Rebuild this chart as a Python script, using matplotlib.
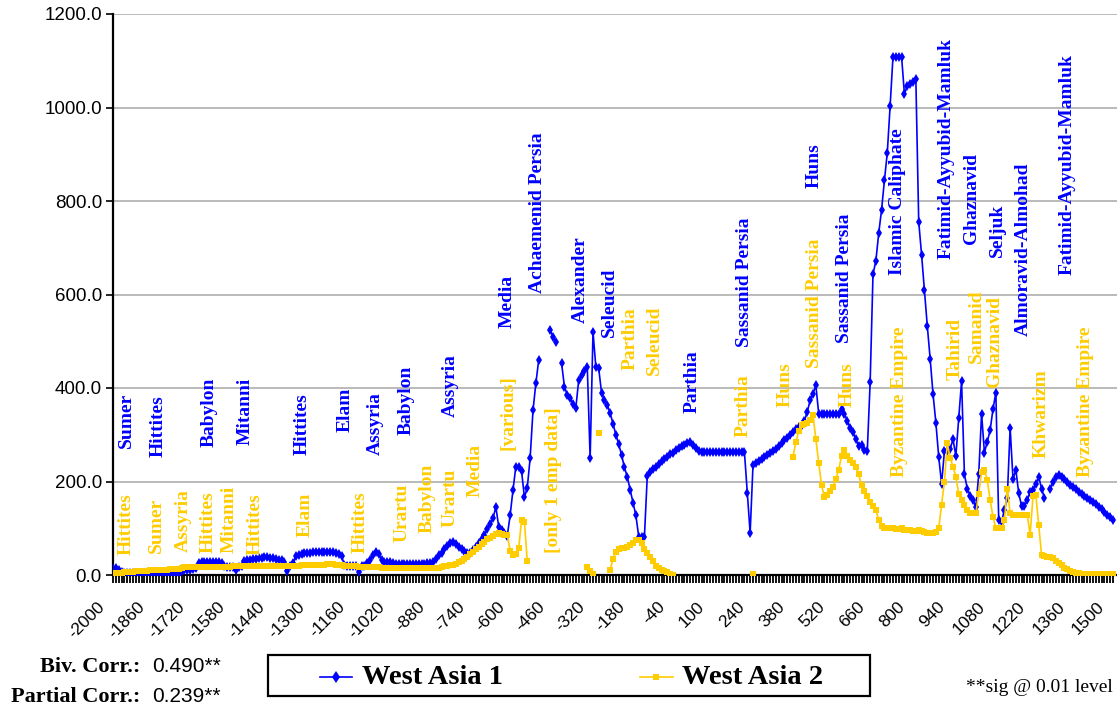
import numpy as np
import matplotlib
matplotlib.use("Agg")
import matplotlib.pyplot as plt
import matplotlib.transforms as mtransforms
from matplotlib.lines import Line2D
from matplotlib.patches import Rectangle

nan = np.nan

# one value every 10 years, -2000 .. 1500
years = np.arange(-2000, 1510, 10)

west_asia_1 = [
    15, 14, 10, 6, 5, 5, 5, 5, 5, 5,                  # -2000
    5, 5, 5, 5, 5, 5, 5, 5, 2, 0,                     # -1900
    2, 2, 0, 2, 8, 10, 10, 10, 12, 14,                # -1800
    25, 27, 28, 28, 28, 28, 28, 28, 26, 20,           # -1700
    18, 18, 18, 10, 18, 20, 30, 32, 33, 34,           # -1600
    35, 36, 37, 38, 38, 37, 36, 34, 33, 32,           # -1500
    28, 8, 20, 25, 40, 43, 45, 46, 47, 48,            # -1400
    49, 50, 50, 50, 50, 50, 50, 49, 48, 45,           # -1300
    40, 22, 20, 20, 20, 20, 6, 20, 20, 25,            # -1200
    32, 42, 50, 45, 32, 28, 28, 27, 25, 24,           # -1100
    23, 23, 23, 23, 23, 23, 23, 23, 23, 24,           # -1000
    25, 26, 28, 34, 42, 48, 55, 62, 68, 70,           # -900
    66, 60, 55, 51, 47, 48, 53, 60, 68, 76,           # -800
    86, 98, 110, 121, 146, 103, 96, 90, 84, 128,      # -700
    182, 232, 232, 222, 166, 187, 250, 352, 410, 460, # -600
    nan, nan, nan, 524, 510, 499, nan, 453, 403, 385, # -500
    378, 365, 358, 417, 428, 436, 445, 250, 520, 445, # -400
    442, 389, 375, 364, 346, 324, 300, 280, 257, 230, # -300
    210, 182, 155, 128, 82, 82, 82, 212, 220, 226,    # -200
    232, 238, 243, 248, 253, 258, 262, 267, 271, 275, # -100
    279, 283, 285, 278, 272, 266, 263, 263, 263, 263, # 0
    263, 263, 263, 263, 263, 263, 263, 263, 263, 263, # 100
    263, 263, 175, 90, 235, 240, 244, 248, 252, 256,  # 200
    260, 265, 270, 276, 282, 288, 294, 300, 306, 312, # 300
    316, 320, 330, 349, 374, 388, 406, 345, 345, 345, # 400
    345, 345, 345, 345, 345, 356, 345, 330, 315, 305, # 500
    290, 275, 278, 268, 265, 412, 643, 672, 731, 781, # 600
    844, 903, 1004, 1109, 1109, 1109, 1109, 1029, 1046, 1050,  # 700
    1055, 1060, 756, 685, 609, 533, 463, 388, 326, 253,        # 800
    195, 265, 265, 270, 290, 255, 335, 415, 215, 185, # 900
    170, 160, 145, 215, 345, 262, 285, 310, 355, 390, # 1000
    117, 114, 140, 165, 315, 205, 225, 175, 148, 148, # 1100
    160, 178, 182, 195, 210, 185, 165, nan, 185, 200, # 1200
    210, 214, 210, 205, 200, 193, 188, 183, 178, 173, # 1300
    169, 165, 160, 156, 151, 146, 141, 135, 129, 124, # 1400
    118,                                              # 1500
]

west_asia_2 = [
    3, 4, 5, 5, 6, 6, 7, 7, 8, 8,                     # -2000
    9, 9, 9, 10, 10, 10, 10, 11, 11, 11,              # -1900
    12, 12, 12, 13, 15, 17, 18, 18, 18, 18,           # -1800
    18, 18, 18, 18, 18, 18, 18, 18, 18, 18,           # -1700
    18, 18, 19, 19, 19, 19, 19, 19, 19, 19,           # -1600
    19, 19, 19, 19, 20, 20, 20, 20, 20, 20,           # -1500
    20, 20, 20, 20, 20, 20, 21, 21, 21, 21,           # -1400
    21, 21, 22, 22, 22, 23, 23, 23, 22, 22,           # -1300
    21, 20, 20, 19, 19, 19, 18, 18, 18, 18,           # -1200
    18, 17, 17, 17, 16, 16, 16, 16, 15, 15,           # -1100
    15, 15, 15, 14, 14, 14, 14, 14, 14, 14,           # -1000
    14, 14, 14, 15, 16, 18, 19, 20, 21, 22,           # -900
    24, 27, 30, 34, 39, 45, 50, 55, 60, 66,           # -800
    71, 76, 80, 84, 88, 90, 88, 85, 85, 52,           # -700
    43, 45, 57, 118, 114, 29, nan, nan, nan, nan,     # -600
    nan, nan, nan, nan, nan, nan, nan, nan, nan, nan, # -500
    nan, nan, nan, nan, nan, nan, 17, 8, 2, nan,      # -400
    303, nan, nan, nan, 10, 35, 50, 55, 57, 58,       # -300
    60, 64, 68, 75, 75, 68, 55, 46, 38, 29,           # -200
    20, 15, 11, 8, 6, 3, 1, nan, nan, nan,            # -100
    nan, nan, nan, nan, nan, nan, nan, nan, nan, nan, # 0
    nan, nan, nan, nan, nan, nan, nan, nan, nan, nan, # 100
    nan, nan, nan, nan, 2, nan, nan, nan, nan, nan,   # 200
    nan, nan, nan, nan, nan, nan, nan, nan, 253, 285, # 300
    307, 320, 324, 326, 332, 342, 290, 240, 192, 167, # 400
    172, 180, 189, 205, 225, 255, 268, 255, 246, 240, # 500
    232, 215, 192, 180, 170, 157, 148, 139, 118, 104, # 600
    100, 100, 100, 100, 99, 98, 100, 97, 96, 96,      # 700
    95, 95, 96, 94, 92, 90, 89, 90, 91, 100,          # 800
    150, 200, 282, 250, 232, 210, 174, 160, 150, 140, # 900
    132, 132, 132, 174, 220, 225, 203, 160, 125, 100, # 1000
    100, 100, 118, 185, 132, 128, 128, 128, 128, 128, # 1100
    128, 86, 168, 171, 107, 43, 40, 39, 38, 36,       # 1200
    30, 26, 22, 16, 12, 8, 6, 5, 4, 3,                # 1300
    3, 3, 3, 3, 3, 3, 3, 3, 3, 3,                     # 1400
    3,                                                # 1500
]

assert len(west_asia_1) == len(years) and len(west_asia_2) == len(years)

# polity labels (text, year, value where the rotated text starts)
labels_1 = [
    ("Sumer", -1953, 272), ("Hittites", -1841, 252), ("Babylon", -1662, 274),
    ("Mitanni", -1536, 278), ("Hittites", -1337, 257), ("Elam", -1186, 306),
    ("Assyria", -1081, 257), ("Babylon", -973, 299), ("Assyria", -819, 338),
    ("Media", -619, 528), ("Achaemenid Persia", -514, 603), ("Alexander", -364, 539),
    ("Seleucid", -262, 509), ("Parthia", 28, 347), ("Sassanid Persia", 210, 488),
    ("Huns", 455, 828), ("Sassanid Persia", 560, 496), ("Islamic Caliphate", 744, 642),
    ("Fatimid-Ayyubid-Mamluk", 916, 676), ("Ghaznavid", 1006, 708), ("Seljuk", 1097, 680),
    ("Almoravid-Almohad", 1185, 511), ("Fatimid-Ayyubid-Mamluk", 1339, 642),
]
labels_2 = [
    ("Hittites", -1953, 43), ("Sumer", -1848, 47), ("Assyria", -1753, 49),
    ("Hittites", -1666, 47), ("Mitanni", -1594, 47), ("Hittites", -1501, 43),
    ("Elam", -1328, 81), ("Hittites", -1136, 47), ("Urartu", -987, 71),
    ("Babylon", -899, 90), ("Urartu", -819, 103), ("Media", -731, 167),
    ("[various]", -616, 267), ("[only 1 emp data]", -458, 47), ("Parthia", -190, 439),
    ("Seleucid", -105, 428), ("Parthia", 207, 295), ("Huns", 354, 359),
    ("Sassanid Persia", 455, 443), ("Huns", 571, 359), ("Byzantine Empire", 753, 210),
    ("Tahirid", 947, 417), ("Samanid", 1021, 453), ("Ghaznavid", 1087, 402),
    ("Khwarizm", 1250, 250), ("Byzantine Empire", 1402, 210),
]

BLUE = "#0000ff"
YELLOW = "#ffcc00"
SERIF = "Liberation Serif"
SANS = "Liberation Sans"

W, H = 1117, 715
fig = plt.figure(figsize=(W / 100, H / 100), dpi=100)
ax = fig.add_axes([113 / W, 1 - 575 / H, (W - 113) / W, (575 - 14) / H])

ax.plot(years, west_asia_1, color=BLUE, lw=1.2, marker="d", ms=5.5, mew=0, zorder=3)
ax.plot(years, west_asia_2, color=YELLOW, lw=1.2, marker="s", ms=4.5, mew=0, zorder=4)

for txt, x, y in labels_1:
    ax.text(x, y, txt, rotation=90, ha="center", va="bottom", color=BLUE,
            family=SERIF, weight="bold", fontsize=14, zorder=5)
for txt, x, y in labels_2:
    ax.text(x, y, txt, rotation=90, ha="center", va="bottom", color=YELLOW,
            family=SERIF, weight="bold", fontsize=14, zorder=5)

ax.set_xlim(-2000, 1514)
ax.set_ylim(0, 1200)
yt = np.arange(0, 1201, 200)
ax.set_yticks(yt)
ax.set_yticklabels([f"{v:.1f}" for v in yt], family=SANS, fontsize=13.5)

# slanted year labels every 140 years, ends just left of and below each tick
xt = np.arange(-2000, 1501, 140)
ax.set_xticks(xt)
ax.set_xticklabels([])
lab_tr = mtransforms.offset_copy(ax.get_xaxis_transform(), fig=fig, x=-16, y=-24, units="dots")
for v in xt:
    ax.text(v, 0, str(v), transform=lab_tr, family=SANS, fontsize=12.5, rotation=45,
            ha="right", va="top", rotation_mode="anchor", clip_on=False)
ax.set_xticks(years, minor=True)
ax.tick_params(axis="x", which="both", direction="out", length=6, width=1.3, pad=4)
ax.tick_params(axis="y", direction="out", length=5, width=1.2, pad=3)

ax.grid(axis="y", color="#b4b4b4", lw=1.3, zorder=0)
ax.set_axisbelow(True)
for s in ("top", "right"):
    ax.spines[s].set_visible(False)
for s in ("left", "bottom"):
    ax.spines[s].set_linewidth(1.6)

# correlation notes
fig.text(140 / W, 1 - 667 / H, "Biv. Corr.:", ha="right", va="center",
         family=SERIF, weight="bold", fontsize=16)
fig.text(152 / W, 1 - 667 / H, "0.490**", ha="left", va="center", family=SANS, fontsize=15)
fig.text(140 / W, 1 - 697 / H, "Partial Corr.:", ha="right", va="center",
         family=SERIF, weight="bold", fontsize=16)
fig.text(152 / W, 1 - 697 / H, "0.239**", ha="left", va="center", family=SANS, fontsize=15)
fig.text(1113 / W, 1 - 688 / H, "**sig @ 0.01 level", ha="right", va="center",
         family=SERIF, fontsize=14)

# legend box
fig.add_artist(Rectangle((268 / W, 1 - 696 / H), 602 / W, 41 / H, transform=fig.transFigure,
                         fill=False, edgecolor="black", lw=1.6))
ly = 1 - 677 / H
fig.add_artist(Line2D([320 / W, 352 / W], [ly, ly], color=BLUE, lw=1.2, transform=fig.transFigure))
fig.add_artist(Line2D([336 / W], [ly], color=BLUE, marker="d", ms=6, mew=0, transform=fig.transFigure))
fig.text(362 / W, ly, "West Asia 1", ha="left", va="center", family=SERIF, weight="bold", fontsize=20.5)
fig.add_artist(Line2D([640 / W, 673 / W], [ly, ly], color=YELLOW, lw=1.2, transform=fig.transFigure))
fig.add_artist(Line2D([656 / W], [ly], color=YELLOW, marker="s", ms=5, mew=0, transform=fig.transFigure))
fig.text(682 / W, ly, "West Asia 2", ha="left", va="center", family=SERIF, weight="bold", fontsize=20.5)

fig.savefig("out.png", dpi=100)
